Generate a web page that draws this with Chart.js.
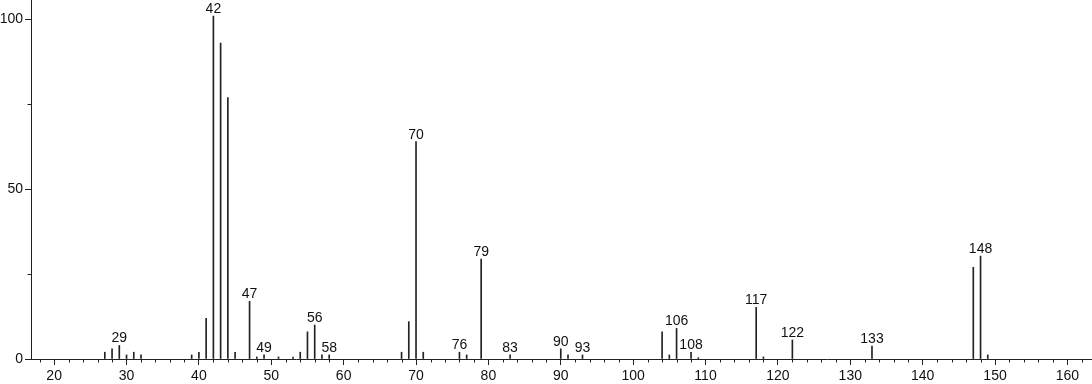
<!DOCTYPE html>
<html>
<head>
<meta charset="utf-8">
<script src="https://cdn.jsdelivr.net/npm/chart.js@4/dist/chart.umd.min.js"></script>
<style>
  body { margin: 0; background: #fff; }
  #wrap { width: 1092px; height: 384px; position: relative; }
</style>
</head>
<body>
<div id="wrap"><canvas id="spec"></canvas></div>
<script>
// m/z and relative intensity
var mz = [27, 28, 29, 30, 31, 32, 39, 40, 41, 42, 43, 44, 45, 47, 48, 49, 51, 53, 54, 55, 56, 57, 58,
  68, 69, 70, 71, 76, 77, 79, 83, 90, 91, 93, 104, 105, 106, 108, 109,
  117, 118, 122, 133, 147, 148, 149]
var intensity = [2, 3, 4, 1.2, 2, 1.2, 1.2, 2, 12, 101, 93, 77, 2, 17, 0.6, 1.2, 0.6, 0.6, 2, 8, 10, 1.2, 1.2,
  2, 11, 64, 2, 2, 1.2, 29.4, 1.2, 3, 1.2, 1.2, 8, 1.2, 9, 2, 0.4,
  15.2, 0.6, 5.6, 3.8, 27, 30.3, 1.2]
var labelled = [29, 42, 47, 49, 56, 58, 70, 76, 79, 83, 90, 93, 106, 108, 117, 122, 133, 148]
var yTickLabels = [0, 50, 100]

var points = mz.map(function (m, i) { return { x: m, y: intensity[i] } })
var font = { family: "'Liberation Sans', Arial, sans-serif", size: 14 }
var ink = "#222"

// short ticks every 2 units on x, at 25 and 75 on y
var minorTicks = {
  id: "minorTicks",
  afterDraw: function (chart) {
    var ctx = chart.ctx
    var xs = chart.scales.x
    var ys = chart.scales.y
    ctx.save()
    ctx.strokeStyle = ink
    ctx.lineWidth = 1
    ctx.beginPath()
    for (var v = 18; v <= 162; v += 2) {
      if (v % 10 === 0) continue
      var px = Math.round(xs.getPixelForValue(v)) + 0.5
      ctx.moveTo(px, ys.bottom)
      ctx.lineTo(px, ys.bottom + 3.5)
    }
    ;[25, 75].forEach(function (v) {
      var py = Math.round(ys.getPixelForValue(v)) + 0.5
      ctx.moveTo(xs.left - 3.5, py)
      ctx.lineTo(xs.left, py)
    })
    ctx.stroke()
    ctx.restore()
  }
}

// m/z numbers over the main peaks
var peakLabels = {
  id: "peakLabels",
  afterDatasetsDraw: function (chart) {
    var ctx = chart.ctx
    var xs = chart.scales.x
    var ys = chart.scales.y
    ctx.save()
    ctx.font = font.size + "px " + font.family
    ctx.fillStyle = "#111"
    ctx.textAlign = "center"
    ctx.textBaseline = "alphabetic"
    labelled.forEach(function (m) {
      var i = mz.indexOf(m)
      ctx.fillText(String(m), xs.getPixelForValue(m), ys.getPixelForValue(intensity[i]) - 3)
    })
    ctx.restore()
  }
}

var config = {
  type: "bar",
  data: {
    datasets: [
      {
        data: points,
        backgroundColor: ink,
        borderWidth: 0,
        barThickness: 1,
        grouped: false
      }
    ]
  },
  options: {
    responsive: true,
    maintainAspectRatio: false,
    animation: false,
    layout: { padding: 0 },
    plugins: {
      legend: { display: false },
      tooltip: { enabled: false }
    },
    scales: {
      x: {
        type: "linear",
        offset: false,
        min: 16.8,
        max: 163.4,
        ticks: {
          stepSize: 10,
          includeBounds: false,
          autoSkip: false,
          maxRotation: 0,
          padding: 3,
          color: "#111",
          font: font
        },
        grid: { drawOnChartArea: false, offset: false, tickLength: 6, color: ink },
        border: { color: ink },
        afterFit: function (s) {
          s.height = 25
          s.paddingLeft = 0
          s.paddingRight = 0
        }
      },
      y: {
        min: 0,
        max: 105.7,
        ticks: {
          stepSize: 50,
          includeBounds: false,
          padding: 2,
          color: "#111",
          font: font,
          callback: function (v) { return yTickLabels.indexOf(v) >= 0 ? v : "" }
        },
        grid: { drawOnChartArea: false, tickLength: 6, color: ink },
        border: { color: ink },
        afterFit: function (s) {
          s.width = 31
          s.paddingTop = 0
          s.paddingBottom = 0
        }
      }
    }
  },
  plugins: [minorTicks, peakLabels]
}

var specChart = new Chart(document.getElementById("spec"), config)
</script>
</body>
</html>
